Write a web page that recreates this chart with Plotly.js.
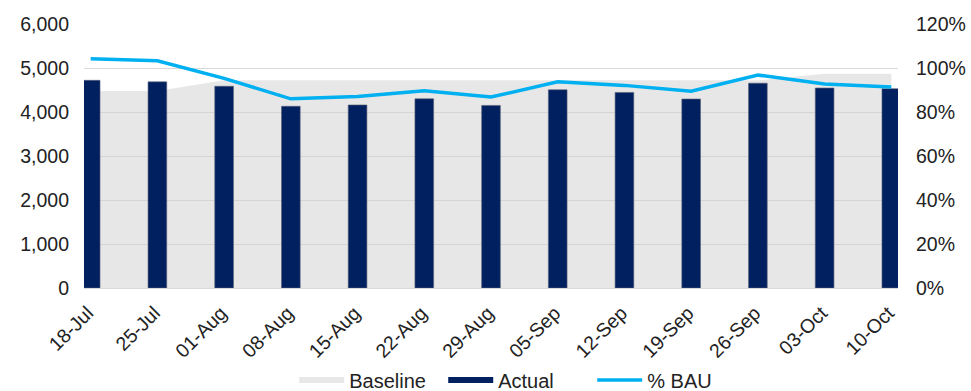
<!DOCTYPE html>
<html>
<head>
<meta charset="utf-8">
<script src="https://cdn.plot.ly/plotly-3.0.1.min.js"></script>
<style>
  html, body { margin: 0; padding: 0; background: #ffffff; }
  #chart { width: 971px; height: 391px; }
</style>
</head>
<body>
<div id="chart"></div>
<script>
// Weekly activity: baseline volume, actual volume and actual as a share of business-as-usual
const weeks = ['18-Jul', '25-Jul', '01-Aug', '08-Aug', '15-Aug', '22-Aug', '29-Aug',
               '05-Sep', '12-Sep', '19-Sep', '26-Sep', '03-Oct', '10-Oct'];
const baseline = [4480, 4480, 4720, 4720, 4720, 4720, 4720, 4720, 4720, 4720, 4720, 4870, 4870];
const actual = [4720, 4685, 4585, 4130, 4160, 4300, 4150, 4505, 4445, 4295, 4655, 4545, 4530];
const pctBau = [1.042, 1.033, 0.953, 0.860, 0.871, 0.897, 0.868, 0.937, 0.921, 0.894, 0.968, 0.927, 0.914];

const idx = weeks.map((_, i) => i);
const NAVY = '#002060';
const tickFont = { family: 'Liberation Sans, Arial, sans-serif', size: 19.5, color: '#222222' };
const legendFont = { family: 'Liberation Sans, Arial, sans-serif', size: 20, color: '#222222' };

const traces = [
  {
    name: 'Baseline',
    type: 'scatter',
    mode: 'none',
    x: idx,
    y: baseline,
    fill: 'tozeroy',
    fillcolor: 'rgba(208,208,208,0.5)',
    yaxis: 'y'
  },
  {
    name: 'Actual',
    type: 'bar',
    x: idx,
    y: actual,
    width: 0.28,
    showlegend: false,
    marker: { color: NAVY, line: { color: 'rgba(90,95,120,0.6)', width: 1 } },
    yaxis: 'y2'
  },
  // legend key for the columns: a filled swatch the same width as the baseline key
  {
    name: 'Actual',
    type: 'scatter',
    mode: 'none',
    x: [null],
    y: [null],
    fill: 'tozeroy',
    fillcolor: NAVY,
    yaxis: 'y2'
  },
  {
    name: '% BAU',
    type: 'scatter',
    mode: 'lines',
    x: idx,
    y: pctBau,
    line: { color: '#00B0F0', width: 3.5 },
    yaxis: 'y3'
  }
];

const layout = {
  width: 971,
  height: 391,
  margin: { l: 84, r: 73, t: 24, b: 103 },
  paper_bgcolor: '#ffffff',
  plot_bgcolor: '#ffffff',
  font: tickFont,
  showlegend: true,
  legend: {
    orientation: 'h',
    x: 0.303,
    xref: 'container',
    xanchor: 'left',
    y: 0.028,
    yref: 'container',
    yanchor: 'middle',
    font: legendFont,
    traceorder: 'normal',
    itemwidth: 45,
    entrywidth: 89
  },
  xaxis: {
    range: [-0.1, 12.1],
    tickmode: 'array',
    tickvals: idx,
    ticktext: weeks,
    tickangle: -45,
    ticklabelstandoff: 5,
    ticklabelshift: -3,
    showgrid: false,
    zeroline: false,
    showline: true,
    linecolor: '#d9d9d9',
    linewidth: 1,
    ticks: '',
    tickfont: tickFont,
    automargin: false,
    fixedrange: true
  },
  yaxis: {
    range: [0, 6000],
    tickvals: [0, 1000, 2000, 3000, 4000, 5000, 6000],
    tickformat: ',d',
    showgrid: true,
    gridcolor: '#d9d9d9',
    gridwidth: 1,
    zeroline: false,
    ticks: '',
    ticklabelstandoff: 14,
    tickfont: tickFont,
    automargin: false
  },
  yaxis2: {
    range: [0, 6000],
    overlaying: 'y',
    side: 'left',
    visible: false,
    showgrid: false
  },
  yaxis3: {
    range: [0, 1.2],
    overlaying: 'y',
    side: 'right',
    tickvals: [0, 0.2, 0.4, 0.6, 0.8, 1.0, 1.2],
    tickformat: '.0%',
    showgrid: false,
    zeroline: false,
    ticks: '',
    ticklabelstandoff: 17,
    tickfont: tickFont,
    automargin: false
  },
  bargap: 0
};

Plotly.newPlot('chart', traces, layout, { displayModeBar: false, staticPlot: true });
</script>
</body>
</html>
